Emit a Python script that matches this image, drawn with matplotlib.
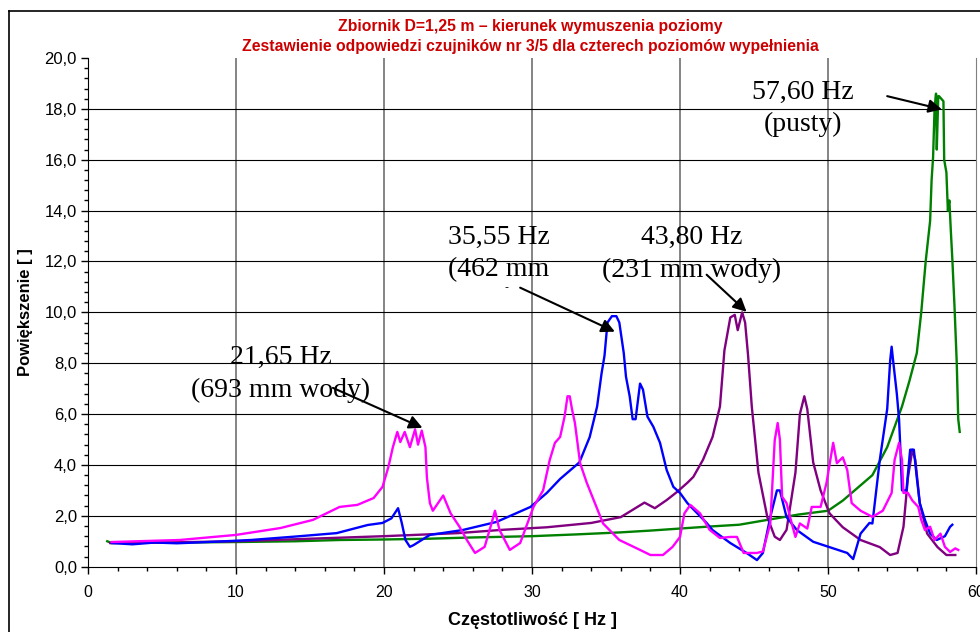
import matplotlib
matplotlib.use("Agg")
import matplotlib.pyplot as plt
from matplotlib.lines import Line2D
from matplotlib.ticker import MultipleLocator, FuncFormatter

# Dane (częstotliwość [Hz], powiększenie [-])
green_x = [1.3, 1.6, 3, 6, 10, 14, 17, 20, 23, 26, 30, 33, 36, 38, 40, 42, 44, 46, 48, 50, 51, 52, 53, 54, 55,
           55.5, 56, 56.3, 56.6, 56.9, 57.0, 57.1, 57.2, 57.3, 57.35, 57.45, 57.5, 57.65, 57.8, 57.85, 58.0,
           58.1, 58.2, 58.3, 58.4, 58.55, 58.7, 58.8, 58.9]
green_y = [1.0, 0.93, 0.95, 0.95, 0.97, 1.0, 1.05, 1.07, 1.1, 1.15, 1.2, 1.27, 1.35, 1.42, 1.5, 1.58, 1.65,
           1.85, 2.05, 2.2, 2.6, 3.1, 3.6, 4.7, 6.3, 7.3, 8.4, 10.0, 12.0, 13.6, 15.2, 16.1, 18.0, 18.6, 16.4,
           18.5, 18.5, 18.4, 18.3, 16.0, 15.5, 14.0, 14.4, 13.2, 12.1, 10.2, 8.0, 5.8, 5.3]

purple_x = [1.5, 5, 10, 15, 20, 25, 28, 31, 34, 36, 37.6, 38.3, 39.1, 39.8, 40.5, 40.9, 41.55, 42.2, 42.7,
            43.0, 43.4, 43.7, 43.9, 44.2, 44.4, 44.6, 44.85, 45.3, 45.9, 46.4, 46.75, 47.2, 47.8, 48.1, 48.4,
            48.6, 49.0, 49.5, 50.1, 51.0, 52.2, 53.5, 54.2, 54.7, 55.1, 55.4, 55.7, 55.9, 56.2, 56.7, 57.4,
            58.0, 58.6]
purple_y = [0.93, 0.95, 1.0, 1.1, 1.2, 1.32, 1.45, 1.55, 1.72, 1.95, 2.52, 2.3, 2.62, 2.94, 3.3, 3.53, 4.2,
            5.1, 6.3, 8.5, 9.8, 9.9, 9.3, 10.0, 9.6, 8.3, 6.3, 3.7, 1.95, 1.18, 1.05, 1.45, 3.7, 6.0, 6.7,
            6.2, 4.1, 3.0, 2.1, 1.55, 1.05, 0.77, 0.46, 0.54, 1.57, 3.5, 4.6, 4.2, 2.5, 1.3, 0.77, 0.46, 0.46]

blue_x = [1.6, 3, 4.5, 6, 8.5, 11, 13.9, 16.8, 18.9, 19.9, 20.5, 20.95, 21.2, 21.45, 21.75, 22.0, 23.1, 25.3,
          27.6, 29.9, 31.0, 31.9, 33.2, 33.9, 34.4, 34.7, 34.9, 35.1, 35.4, 35.7, 35.9, 36.2, 36.35, 36.6,
          36.8, 37.0, 37.3, 37.5, 37.8, 38.2, 38.65, 39.1, 39.55, 40.0, 40.5, 41.8, 42.2, 43.4, 44.5, 45.2,
          45.6, 46.1, 46.55, 46.75, 47.2, 47.9, 49.0, 51.3, 51.7, 52.2, 52.8, 53.0, 53.5, 54.0, 54.2, 54.3,
          54.4, 54.65, 54.8, 54.9, 55.0, 55.3, 55.55, 55.8, 56.0, 56.2, 56.55, 56.9, 57.35, 57.9, 58.25, 58.4]
blue_y = [0.93, 0.88, 0.95, 0.92, 0.98, 1.05, 1.18, 1.32, 1.64, 1.72, 1.9, 2.3, 1.72, 1.05, 0.78, 0.85, 1.25,
          1.44, 1.76, 2.35, 2.9, 3.45, 4.1, 5.1, 6.3, 7.6, 8.3, 9.6, 9.85, 9.85, 9.6, 8.4, 7.47, 6.7, 5.8,
          5.8, 7.2, 6.96, 5.9, 5.5, 4.87, 3.8, 3.14, 2.9, 2.5, 1.72, 1.44, 0.93, 0.54, 0.26, 0.54, 1.95, 3.0,
          3.0, 1.95, 1.44, 0.98, 0.54, 0.3, 1.3, 1.72, 1.7, 4.2, 6.2, 8.1, 8.65, 8.1, 6.8, 5.8, 4.5, 3.0,
          3.0, 4.6, 4.6, 3.5, 2.5, 1.84, 1.3, 1.05, 1.2, 1.57, 1.65]

magenta_x = [1.6, 6.2, 10, 13, 15.2, 17.0, 18.2, 19.3, 19.9, 20.3, 20.6, 20.9, 21.1, 21.4, 21.75, 22.1, 22.3,
             22.55, 22.8, 22.9, 23.1, 23.3, 24.0, 24.5, 25.1, 25.6, 26.15, 26.8, 27.2, 27.5, 27.8, 28.5, 29.2,
             30.1, 30.75, 31.2, 31.55, 31.9, 32.2, 32.4, 32.55, 32.7, 32.9, 33.25, 33.7, 34.25, 34.8, 35.9,
             37.3, 38.0, 38.85, 39.5, 40.0, 40.3, 40.7, 41.35, 42.0, 42.7, 43.4, 43.85, 44.3, 45.2, 45.6,
             46.1, 46.4, 46.6, 46.75, 46.9, 47.2, 47.55, 47.8, 48.1, 48.6, 48.9, 49.5, 49.9, 50.35, 50.6,
             51.0, 51.3, 51.6, 52.2, 53.0, 53.7, 54.3, 54.5, 54.8, 55.0, 55.1, 55.4, 55.7, 56.1, 56.3, 56.55,
             56.9, 57.2, 57.6, 57.9, 58.25, 58.6, 58.8]
magenta_y = [0.97, 1.05, 1.25, 1.52, 1.84, 2.35, 2.43, 2.7, 3.14, 3.93, 4.7, 5.3, 4.9, 5.3, 4.7, 5.4, 4.8,
             5.35, 4.7, 3.5, 2.5, 2.2, 2.8, 2.1, 1.57, 1.05, 0.54, 0.78, 1.57, 2.2, 1.45, 0.66, 0.93, 2.35,
             3.0, 4.2, 4.87, 5.1, 5.9, 6.7, 6.7, 6.2, 5.65, 4.07, 3.3, 2.5, 1.7, 1.05, 0.66, 0.46, 0.46, 0.78,
             1.17, 2.1, 2.43, 2.1, 1.45, 1.13, 1.17, 1.17, 0.54, 0.54, 0.6, 1.7, 4.97, 5.65, 5.0, 2.75, 2.5,
             1.7, 1.17, 1.7, 1.5, 2.35, 2.35, 3.3, 4.87, 4.07, 4.3, 3.8, 2.5, 2.2, 1.96, 2.2, 2.9, 4.2, 4.87,
             4.2, 2.9, 2.9, 2.6, 2.35, 1.84, 1.44, 1.57, 1.05, 1.3, 0.78, 0.58, 0.72, 0.66]

# Opisy rezonansów: tekst, położenie tekstu, grot i początek strzałki
labels = ["57,60 Hz\n(pusty)", "43,80 Hz\n(231 mm wody)", "35,55 Hz\n(462 mm", "21,65 Hz\n(693 mm wody)"]
label_xy = [(48.3, 18.02), (40.8, 12.31), (24.3, 12.31), (13.0, 7.58)]
label_ha = ["center", "center", "left", "center"]
arrow_tail = [(54.0, 18.5), (41.8, 11.48), (29.2, 10.97), (16.55, 7.03)]
arrow_head = [(57.7, 17.98), (44.5, 10.02), (35.6, 9.24), (22.6, 5.46)]

W, H = 980, 632
fig = plt.figure(figsize=(W / 100, H / 100), dpi=100)
ax = fig.add_axes([88 / W, 1 - 566.7 / H, (976 - 88) / W, (566.7 - 58) / H])

# ramka wykresu
fig.add_artist(Line2D([8.5 / W, 8.5 / W], [0, 1 - 11 / H], color="black", lw=1.2))
fig.add_artist(Line2D([8.5 / W, 1], [1 - 11 / H, 1 - 11 / H], color="black", lw=1.2))

lw = 1.7
ax.plot(green_x, green_y, color="#008000", lw=lw, zorder=3)
ax.plot(purple_x, purple_y, color="#800080", lw=lw, zorder=3)
ax.plot(blue_x, blue_y, color="#0000FF", lw=lw, zorder=3)
ax.plot(magenta_x, magenta_y, color="#FF00FF", lw=lw, zorder=3)

ax.set_xlim(0, 60)
ax.set_ylim(0, 20)
ax.xaxis.set_major_locator(MultipleLocator(10))
ax.xaxis.set_minor_locator(MultipleLocator(2))
ax.yaxis.set_major_locator(MultipleLocator(2))
ax.yaxis.set_minor_locator(MultipleLocator(0.4))
ax.yaxis.set_major_formatter(FuncFormatter(lambda v, p: f"{v:.1f}".replace(".", ",")))

# siatka
for v in range(10, 60, 10):
    ax.axvline(v, color="#707070", lw=1.2, zorder=1)
for v in range(2, 20, 2):
    ax.axhline(v, color="black", lw=0.8, zorder=1)

ax.spines["top"].set_visible(False)
ax.spines["right"].set_color("#808080")
ax.spines["left"].set_color("black")
ax.spines["bottom"].set_color("black")
ax.tick_params(which="major", direction="out", length=5, width=1, pad=3,
               labelfontfamily="Liberation Sans")
ax.tick_params(which="minor", direction="out", length=3, width=1)
ax.tick_params(axis="y", which="major", labelsize=12)
ax.tick_params(axis="x", which="major", labelsize=11.5, pad=8)

ax.set_xlabel("Częstotliwość [ Hz ]", fontsize=13, fontweight="bold", family="Liberation Sans", labelpad=9)
ax.set_ylabel("Powiększenie [ ]", fontsize=12, fontweight="bold", family="Liberation Sans", labelpad=8)

fig.text(530 / W, 1 - 27 / H, "Zbiornik D=1,25 m – kierunek wymuszenia poziomy", ha="center", va="center",
         color="#CC0000", fontsize=11.3, fontweight="bold", family="Liberation Sans")
fig.text(530 / W, 1 - 46 / H, "Zestawienie odpowiedzi czujników nr 3/5 dla czterech poziomów wypełnienia",
         ha="center", va="center", color="#CC0000", fontsize=11.3, fontweight="bold", family="Liberation Sans")

for txt, pos, ha in zip(labels, label_xy, label_ha):
    ax.text(pos[0], pos[1], txt, ha=ha, va="center", multialignment="center" if ha == "center" else "left",
            fontsize=20, family="Liberation Serif", linespacing=1.4, zorder=5)
for tail, head in zip(arrow_tail, arrow_head):
    ax.annotate("", xy=head, xytext=tail,
                arrowprops=dict(arrowstyle="-|>", color="black", lw=1.5, mutation_scale=20,
                                shrinkA=0, shrinkB=0), zorder=6)
ax.text(28.3, 11.0, "-", fontsize=8, ha="center", va="center", zorder=5)

fig.savefig("out.png", dpi=100)
